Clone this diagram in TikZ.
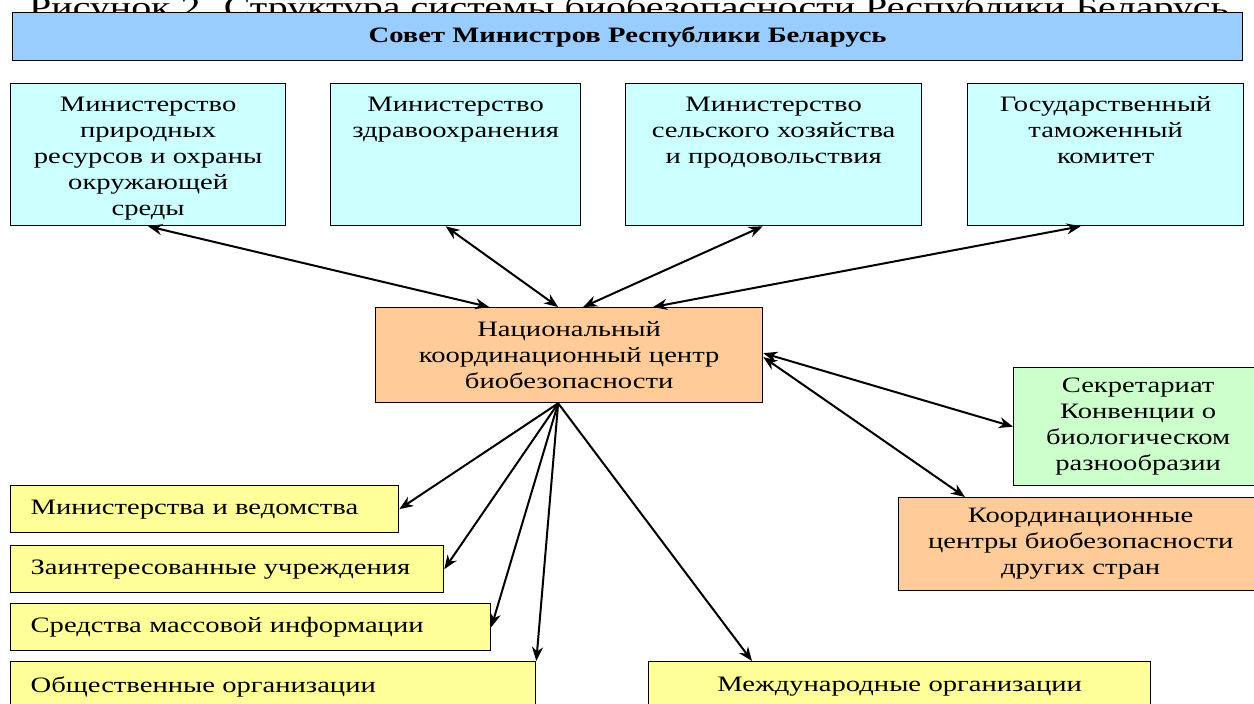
\documentclass[tikz,border=0pt]{standalone}
\usepackage{fontspec}
\setmainfont{Liberation Serif}[FakeStretch=1.3]
\newfontfamily\titlefont{Liberation Serif}[FakeStretch=1.33]
\usetikzlibrary{arrows.meta}
\definecolor{skyblue}{HTML}{99CCFF}
\definecolor{palecyan}{HTML}{CCFFFF}
\definecolor{peach}{HTML}{FFCC99}
\definecolor{mint}{HTML}{CCFFCC}
\definecolor{lemon}{HTML}{FFFF99}

\begin{document}
\begin{tikzpicture}[x=1pt,y=-1pt]
\tikzset{
	box/.style={draw,
		line width=1.3pt,
		inner sep=0pt,
		anchor=north west, % boxes are placed by their upper left corner
		align=center,
		font=\fontsize{22}{26}\selectfont},
	minbox/.style={box, fill=palecyan, text height=28pt, text depth=114pt}, % text sits at the top
	listbox/.style={box, fill=lemon, align=left, inner xsep=20pt, minimum height=47pt},
	link/.style={line width=2pt, >={Stealth[length=14pt,width=11pt]}}
}
\useasboundingbox (0,0) rectangle (1254,704);
\clip (0,0) rectangle (1254,704);
\node[anchor=base, font=\titlefont\fontsize{30}{36}\selectfont] (TITLE) at (629,17) {Рисунок 2. Структура системы биобезопасности Республики Беларусь};
\node[box, fill=skyblue, text width=1230pt, minimum height=48pt, font=\bfseries\fontsize{22}{26}\selectfont] (SOVMIN) at (12,12) {Совет Министров Республики Беларусь};
\node[minbox, text width=275pt] (MINPRIR) at (10,83) {Министерство\\природных\\ресурсов и охраны\\окружающей\\среды};
\node[minbox, text width=250pt] (MINZDRAV) at (330,83) {Министерство\\здравоохранения};
\node[minbox, text width=296pt] (MINSELH) at (625,83) {Министерство\\сельского хозяйства\\и продовольствия};
\node[minbox, text width=276pt] (TAMOZH) at (967,83) {Государственный\\таможенный\\комитет};
\node[box, fill=peach, text width=387pt, minimum height=95pt] (NKC) at (375,307) {Национальный\\координационный центр\\биобезопасности};
\node[box, fill=mint, text width=249pt, minimum height=118pt] (SEKR) at (1013,367) {Секретариат\\Конвенции о\\биологическом\\разнообразии};
\node[box, fill=peach, text width=364pt, minimum height=93pt] (KCDS) at (898,497) {Координационные\\центры биобезопасности\\других стран};
\node[listbox, text width=348pt] (MINVED) at (10,485) {Министерства и ведомства};
\node[listbox, text width=393pt] (ZAINT) at (10,545) {Заинтересованные учреждения};
\node[listbox, text width=440pt] (SMI) at (10,603) {Средства массовой информации};
\node[listbox, text width=485pt, minimum height=50pt] (OBSHCH) at (10,661) {Общественные организации};
\node[listbox, align=center, text width=462pt, minimum height=50pt] (MEZHD) at (648,661) {Международные организации};

{\draw[<->, link] (MINPRIR.south) -- ([xshift=-80pt]NKC.north);}
{\draw[<->, link] ([xshift=-10pt]MINZDRAV.south) -- ([xshift=-11pt]NKC.north);}
{\draw[<->, link] ([xshift=-11pt]MINSELH.south) -- ([xshift=14pt]NKC.north);}
{\draw[<->, link] ([xshift=-25pt]TAMOZH.south) -- ([xshift=84pt]NKC.north);}
{\draw[<->, link] ([yshift=2pt]NKC.east) -- (SEKR.west);}
{\draw[<->, link] ([yshift=-2pt]NKC.east) -- ([xshift=67pt]KCDS.north west);}
{\draw[->, link] ([xshift=-11pt]NKC.south) -- (MINVED.east);}
{\draw[->, link] ([xshift=-11pt]NKC.south) -- (ZAINT.east);}
{\draw[->, link] ([xshift=-11pt]NKC.south) -- (SMI.east);}
{\draw[->, link] ([xshift=-11pt]NKC.south) -- (OBSHCH.north east);}
{\draw[->, link] ([xshift=-11pt]NKC.south) -- ([xshift=104pt]MEZHD.north west);}

\end{tikzpicture}
\end{document}
